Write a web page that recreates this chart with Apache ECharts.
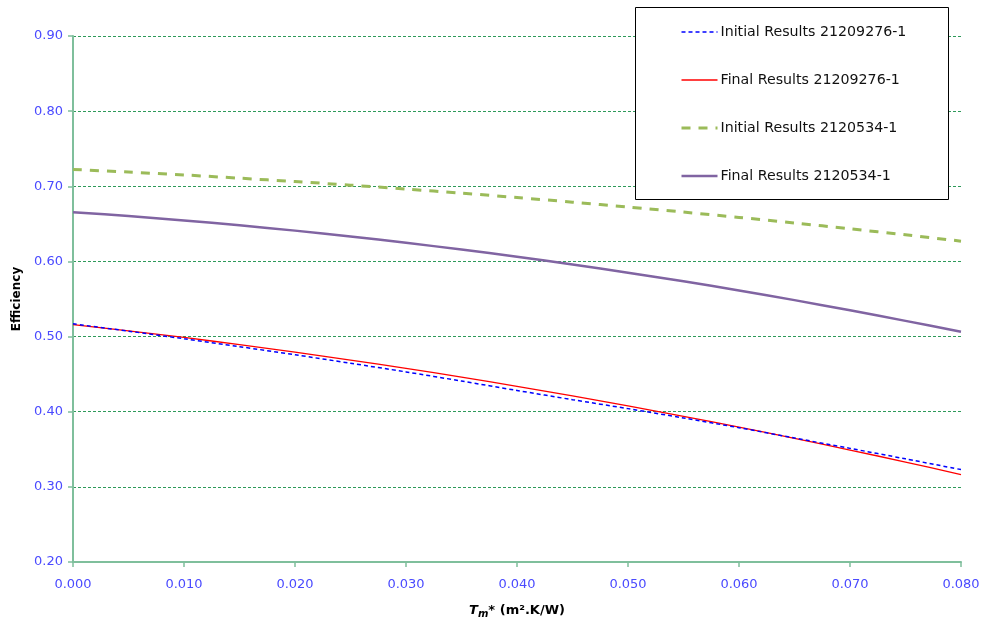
<!DOCTYPE html>
<html>
<head>
<meta charset="utf-8">
<script src="https://cdn.jsdelivr.net/npm/echarts@6/dist/echarts.min.js"></script>
<style>html,body{margin:0;padding:0;background:#fff}#c{width:983px;height:619px}</style>
</head>
<body>
<div id="c"></div>
<script>
const tmValues = [0, 0.005, 0.01, 0.015, 0.02, 0.025, 0.03, 0.035, 0.04, 0.045, 0.05, 0.055, 0.06, 0.065, 0.07, 0.075, 0.08];
const initial21209276 = [0.517, 0.5072, 0.4971, 0.4866, 0.4758, 0.4645, 0.4530, 0.4408, 0.4283, 0.4160, 0.4041, 0.3917, 0.3787, 0.3650, 0.3512, 0.3373, 0.3230];
const final21209276 = [0.516, 0.5077, 0.4988, 0.4893, 0.4793, 0.4687, 0.4577, 0.4460, 0.4338, 0.4210, 0.4078, 0.3939, 0.3795, 0.3645, 0.3490, 0.3330, 0.3164];
const initial2120534 = [0.7225, 0.7189, 0.7151, 0.7108, 0.7063, 0.7015, 0.6963, 0.6909, 0.6850, 0.6789, 0.6724, 0.6657, 0.6586, 0.6512, 0.6434, 0.6354, 0.6270];
const final2120534 = [0.6656, 0.6604, 0.6546, 0.6481, 0.6410, 0.6332, 0.6248, 0.6158, 0.6062, 0.5959, 0.5850, 0.5735, 0.5614, 0.5485, 0.5350, 0.5209, 0.5063];
const seriesNames = ['Initial Results 21209276-1', 'Final Results 21209276-1', 'Initial Results 2120534-1', 'Final Results 2120534-1'];

const pair = ys => tmValues.map((x, i) => [x, ys[i]]);
const FONT = 'DejaVu Sans';
const axisGreen = '#7fbf9c';
const labelBlue = '#4a4aff';
const styles = [
  {color: '#0000ff', width: 1.5, type: [4, 3]},
  {color: '#ff0000', width: 1.3, type: 'solid'},
  {color: '#9bbb59', width: 3, type: [9, 8]},
  {color: '#8064a2', width: 2.5, type: 'solid'}
];

const chart = echarts.init(document.getElementById('c'), null, {renderer: 'canvas'});
chart.setOption({
  animation: false,
  backgroundColor: '#fff',
  grid: {left: 73, right: 22, top: 36, bottom: 57, containLabel: false, outerBoundsMode: 'none'},
  xAxis: {
    type: 'value', min: 0, max: 0.08, interval: 0.01,
    axisLine: {show: true, lineStyle: {color: axisGreen, width: 2}},
    axisTick: {show: true, inside: false, length: 5, lineStyle: {color: axisGreen, width: 1.5}},
    axisLabel: {color: labelBlue, fontFamily: FONT, fontSize: 13, margin: 16, formatter: v => v.toFixed(3)},
    splitLine: {show: false},
    name: '{i|T}{s|m}{b|* (m².K/W)}',
    nameLocation: 'middle', nameGap: 41,
    nameTextStyle: {
      rich: {
        i: {fontFamily: FONT, fontSize: 13, fontWeight: 'bold', fontStyle: 'italic', color: '#000'},
        s: {fontFamily: FONT, fontSize: 10, fontWeight: 'bold', fontStyle: 'italic', color: '#000', verticalAlign: 'bottom', padding: [6, 0, 0, 0]},
        b: {fontFamily: FONT, fontSize: 13, fontWeight: 'bold', color: '#000'}
      }
    }
  },
  yAxis: {
    type: 'value', min: 0.2, max: 0.9, interval: 0.1,
    axisLine: {show: true, lineStyle: {color: axisGreen, width: 2}},
    axisTick: {show: true, inside: false, length: 5, lineStyle: {color: axisGreen, width: 1.5}},
    axisLabel: {color: labelBlue, fontFamily: FONT, fontSize: 13, margin: 10, formatter: v => v.toFixed(2)},
    splitLine: {show: true, lineStyle: {color: '#2e9a5a', width: 1, type: [3, 2]}},
    name: 'Efficiency', nameLocation: 'middle', nameGap: 48,
    nameTextStyle: {fontFamily: FONT, fontSize: 12, fontWeight: 'bold', color: '#000'}
  },
  graphic: [{
    type: 'rect', z: 50, left: 635, top: 7,
    shape: {width: 313, height: 192},
    style: {fill: '#fff', stroke: '#000', lineWidth: 1}
  }],
  legend: {
    z: 60, orient: 'vertical', left: 680, top: 25,
    itemWidth: 36, itemHeight: 14, itemGap: 34, padding: 0,
    itemStyle: {opacity: 0, color: 'rgba(0,0,0,0)', borderWidth: 0},
    textStyle: {fontFamily: FONT, fontSize: 14.2, lineHeight: 14, color: '#111', padding: [0, 0, 0, -2]},
    data: seriesNames.map((n, i) => ({name: n, lineStyle: styles[i]}))
  },
  series: seriesNames.map((n, i) => ({
    name: n, type: 'line',
    data: pair([initial21209276, final21209276, initial2120534, final2120534][i]),
    showSymbol: false, symbol: 'none', smooth: 0.3, z: i === 0 ? 4 : 3,
    lineStyle: styles[i], itemStyle: {color: styles[i].color}
  }))
});
</script>
</body>
</html>
